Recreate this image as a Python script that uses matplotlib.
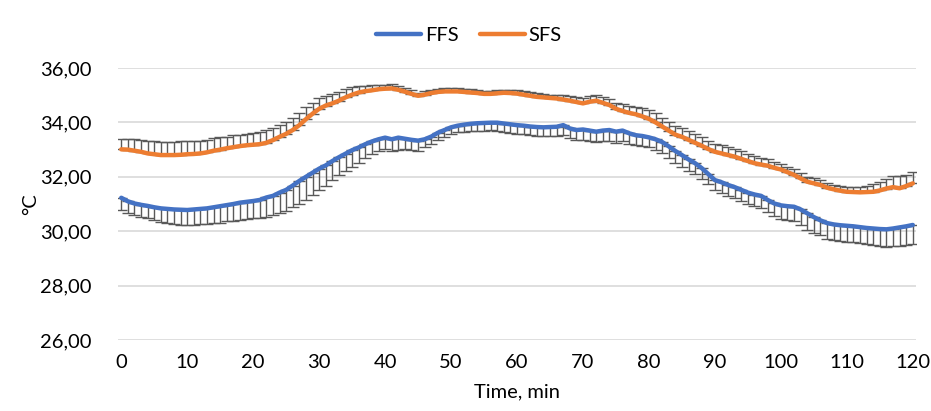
import matplotlib
matplotlib.use('Agg')
import matplotlib.pyplot as plt
import numpy as np
from matplotlib.ticker import FuncFormatter

plt.rcParams['font.family'] = ['Lato', 'DejaVu Sans']

minutes = np.arange(0, 121)

ffs = [31.23, 31.10, 31.02, 30.97, 30.93, 30.88, 30.84, 30.82, 30.80, 30.79,
       30.78, 30.80, 30.82, 30.84, 30.88, 30.92, 30.96, 31.00, 31.05, 31.08,
       31.11, 31.15, 31.24, 31.30, 31.42, 31.52, 31.68, 31.85, 32.00, 32.15,
       32.30, 32.42, 32.58, 32.72, 32.85, 32.98, 33.08, 33.20, 33.30, 33.38,
       33.44, 33.38, 33.44, 33.40, 33.36, 33.33, 33.38, 33.48, 33.62, 33.72,
       33.82, 33.88, 33.92, 33.95, 33.97, 33.98, 33.99, 33.99, 33.96, 33.93,
       33.90, 33.88, 33.85, 33.83, 33.82, 33.83, 33.84, 33.90, 33.78, 33.72,
       33.74, 33.70, 33.66, 33.70, 33.72, 33.66, 33.70, 33.60, 33.53, 33.50,
       33.45, 33.38, 33.28, 33.12, 32.95, 32.80, 32.64, 32.50, 32.32, 32.10,
       31.88, 31.80, 31.70, 31.62, 31.52, 31.42, 31.35, 31.30, 31.15, 31.02,
       30.95, 30.92, 30.90, 30.80, 30.66, 30.52, 30.40, 30.30, 30.25, 30.22,
       30.20, 30.18, 30.15, 30.12, 30.10, 30.08, 30.07, 30.10, 30.14, 30.18,
       30.23]

sfs = [33.01, 33.00, 32.96, 32.92, 32.86, 32.83, 32.80, 32.80, 32.80, 32.81,
       32.83, 32.84, 32.86, 32.90, 32.96, 33.00, 33.05, 33.09, 33.13, 33.16,
       33.18, 33.20, 33.25, 33.35, 33.47, 33.58, 33.72, 33.90, 34.12, 34.32,
       34.50, 34.62, 34.70, 34.80, 34.92, 35.02, 35.10, 35.15, 35.18, 35.22,
       35.24, 35.25, 35.20, 35.13, 35.05, 34.98, 35.02, 35.08, 35.12, 35.14,
       35.14, 35.14, 35.12, 35.10, 35.08, 35.05, 35.05, 35.07, 35.09, 35.08,
       35.06, 35.02, 34.98, 34.94, 34.92, 34.90, 34.88, 34.84, 34.80, 34.75,
       34.70, 34.76, 34.80, 34.72, 34.64, 34.50, 34.42, 34.35, 34.30, 34.22,
       34.13, 34.00, 33.85, 33.70, 33.55, 33.47, 33.36, 33.25, 33.14, 33.02,
       32.92, 32.86, 32.80, 32.74, 32.66, 32.58, 32.50, 32.45, 32.41, 32.33,
       32.27, 32.17, 32.07, 31.94, 31.82, 31.76, 31.70, 31.60, 31.54, 31.49,
       31.45, 31.44, 31.43, 31.44, 31.45, 31.50, 31.57, 31.62, 31.58, 31.66,
       31.76]

# standard deviations (FFS drawn downward, SFS upward)
ffs_sd = [0.45, 0.44, 0.43, 0.44, 0.45, 0.47, 0.49, 0.51, 0.54, 0.55,
          0.55, 0.56, 0.56, 0.58, 0.59, 0.60, 0.59, 0.61, 0.64, 0.64,
          0.64, 0.66, 0.71, 0.72, 0.74, 0.76, 0.80, 0.84, 0.86, 0.83,
          0.80, 0.76, 0.70, 0.67, 0.64, 0.61, 0.56, 0.50, 0.45, 0.43,
          0.43, 0.42, 0.44, 0.39, 0.38, 0.38, 0.30, 0.28, 0.28, 0.27,
          0.25, 0.25, 0.26, 0.27, 0.28, 0.29, 0.28, 0.29, 0.30, 0.31,
          0.31, 0.32, 0.32, 0.33, 0.32, 0.32, 0.34, 0.35, 0.37, 0.38,
          0.39, 0.37, 0.37, 0.38, 0.40, 0.40, 0.39, 0.38, 0.37, 0.37,
          0.37, 0.38, 0.40, 0.42, 0.43, 0.43, 0.42, 0.41, 0.40, 0.38,
          0.37, 0.38, 0.40, 0.41, 0.42, 0.42, 0.43, 0.45, 0.44, 0.46,
          0.49, 0.50, 0.53, 0.56, 0.61, 0.58, 0.55, 0.57, 0.58, 0.58,
          0.58, 0.59, 0.60, 0.60, 0.59, 0.62, 0.64, 0.66, 0.67, 0.68,
          0.70]

sfs_sd = [0.38, 0.39, 0.42, 0.45, 0.47, 0.48, 0.49, 0.49, 0.49, 0.49,
          0.49, 0.48, 0.47, 0.46, 0.45, 0.45, 0.43, 0.43, 0.42, 0.42,
          0.42, 0.44, 0.47, 0.46, 0.45, 0.45, 0.45, 0.45, 0.43, 0.40,
          0.38, 0.36, 0.34, 0.32, 0.30, 0.27, 0.24, 0.20, 0.18, 0.16,
          0.15, 0.15, 0.15, 0.14, 0.13, 0.12, 0.12, 0.12, 0.12, 0.12,
          0.12, 0.12, 0.12, 0.12, 0.12, 0.12, 0.12, 0.12, 0.12, 0.12,
          0.12, 0.12, 0.13, 0.13, 0.12, 0.12, 0.14, 0.16, 0.18, 0.19,
          0.20, 0.20, 0.21, 0.21, 0.22, 0.22, 0.24, 0.26, 0.28, 0.30,
          0.32, 0.33, 0.33, 0.32, 0.31, 0.31, 0.31, 0.31, 0.31, 0.31,
          0.30, 0.30, 0.29, 0.29, 0.28, 0.27, 0.27, 0.26, 0.24, 0.22,
          0.21, 0.20, 0.20, 0.19, 0.19, 0.18, 0.18, 0.17, 0.16, 0.17,
          0.17, 0.18, 0.20, 0.24, 0.30, 0.32, 0.35, 0.40, 0.45, 0.42,
          0.40]

blue = '#4472C4'
orange = '#ED7D31'
zeros = np.zeros(len(minutes))

fig = plt.figure(figsize=(9.31, 4.11), dpi=100)
ax = fig.add_axes([0.1267, 0.1727, 0.8573, 0.6618])

ax.errorbar(minutes, ffs, yerr=[ffs_sd, zeros], fmt='none', ecolor='#595959',
            elinewidth=1.0, capsize=4.5, capthick=1.0, zorder=2)
ax.errorbar(minutes, sfs, yerr=[zeros, sfs_sd], fmt='none', ecolor='#595959',
            elinewidth=1.0, capsize=4.5, capthick=1.0, zorder=2)
ax.plot(minutes, ffs, color=blue, lw=3.2, solid_capstyle='round', label='FFS', zorder=3)
ax.plot(minutes, sfs, color=orange, lw=3.2, solid_capstyle='round', label='SFS', zorder=3)

ax.set_xlim(-0.5, 120.5)
ax.set_ylim(26, 36)
ax.set_xticks(np.arange(0, 121, 10))
ax.set_yticks(np.arange(26, 37, 2))
ax.yaxis.set_major_formatter(FuncFormatter(lambda v, p: f'{v:.2f}'.replace('.', ',')))
ax.tick_params(length=0, labelsize=14.5, colors='#000000')
ax.tick_params(axis='y', pad=19)
ax.tick_params(axis='x', pad=10)
for s in ax.spines.values():
    s.set_visible(False)
ax.grid(axis='y', color='#D9D9D9', lw=1.2)
ax.set_axisbelow(True)

ax.set_xlabel('Time, min', fontsize=14.5, labelpad=9)
ax.set_ylabel('°C', fontsize=14.5, labelpad=1)

ax.legend(loc='lower center', bbox_to_anchor=(0.44, 1.02), ncol=2, frameon=False,
          fontsize=14.5, handlelength=2.2, handletextpad=0.2, columnspacing=1.1)

fig.savefig('out.png', dpi=100)
